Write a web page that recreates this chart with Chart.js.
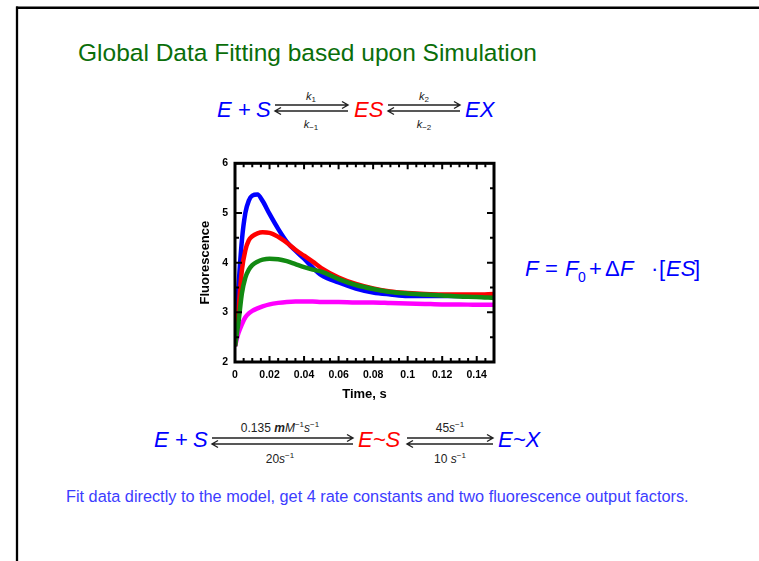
<!DOCTYPE html>
<html>
<head>
<meta charset="utf-8">
<script src="https://cdn.jsdelivr.net/npm/chart.js@4/dist/chart.umd.min.js"></script>
<style>
  html, body { margin: 0; padding: 0; background: #fff; }
  body { width: 759px; height: 561px; position: relative; overflow: hidden; font-family: "Liberation Sans", Arial, sans-serif; }
  #slide { position: absolute; left: 0; top: 0; }
  #fluor { position: absolute; left: 195px; top: 150px; filter: blur(0.5px); }
  .eq { font-family: "Liberation Sans", Arial, sans-serif; }
</style>
</head>
<body>
<svg id="slide" width="759" height="561" xmlns="http://www.w3.org/2000/svg">
  <!-- frame lines -->
  <line x1="16" y1="7.8" x2="759" y2="7.8" stroke="#000" stroke-width="2.5"/>
  <line x1="17" y1="6.5" x2="17" y2="561" stroke="#000" stroke-width="2.3"/>

  <text x="78" y="61" font-size="24.5" fill="#0a6e0a" class="eq">Global Data Fitting based upon Simulation</text>

  <!-- E + S <=> ES <=> EX -->
  <g class="eq" font-size="22" fill="#0000ff">
    <text x="217" y="117" font-style="italic">E</text>
    <text x="238" y="117">+</text>
    <text x="256" y="117" font-style="italic">S</text>
    <text x="354" y="117" font-style="italic" fill="#ff0000">ES</text>
    <text x="465" y="117" font-style="italic">EX</text>
  </g>
  <g stroke="#222" stroke-width="1.4" fill="none">
    <path d="M275 105 H348 M342 101.5 L348 105 L342 108.5"/>
    <path d="M275 111 H348 M281 107.5 L275 111 L281 114.5"/>
    <path d="M388 105 H460 M454 101.5 L460 105 L454 108.5"/>
    <path d="M388 111 H460 M394 107.5 L388 111 L394 114.5"/>
  </g>
  <g class="eq" font-size="11" fill="#222" text-anchor="middle">
    <text x="311" y="100"><tspan font-style="italic">k</tspan><tspan font-size="8" dy="2">1</tspan></text>
    <text x="311" y="128"><tspan font-style="italic">k</tspan><tspan font-size="8" dy="2">−1</tspan></text>
    <text x="424" y="100"><tspan font-style="italic">k</tspan><tspan font-size="8" dy="2">2</tspan></text>
    <text x="424" y="128"><tspan font-style="italic">k</tspan><tspan font-size="8" dy="2">−2</tspan></text>
  </g>

  <!-- F = F0 + dF [ES] -->
  <g class="eq" font-size="22" fill="#0000ff">
    <text x="525" y="276" font-style="italic">F</text>
    <text x="545" y="276">=</text>
    <text x="565" y="276" font-style="italic">F</text>
    <text x="578" y="282" font-size="14">0</text>
    <text x="589" y="276">+</text>
    <text x="605" y="276">Δ</text>
    <text x="620" y="276" font-style="italic">F</text>
    <text x="651" y="276">·</text>
    <text x="659" y="276">[</text>
    <text x="666" y="276" font-style="italic">ES</text>
    <text x="694" y="276">]</text>
  </g>

  <!-- fitted scheme with rate constants -->
  <g class="eq" font-size="22" fill="#0000ff">
    <text x="154" y="447" font-style="italic">E</text>
    <text x="175" y="447">+</text>
    <text x="193" y="447" font-style="italic">S</text>
    <text x="358" y="447" font-style="italic" fill="#ff0000">E~S</text>
    <text x="498" y="447" font-style="italic">E~X</text>
  </g>
  <g stroke="#222" stroke-width="1.4" fill="none">
    <path d="M212 438 H353 M347 434.5 L353 438 L347 441.5"/>
    <path d="M212 444 H353 M218 440.5 L212 444 L218 447.5"/>
    <path d="M407 438 H493 M487 434.5 L493 438 L487 441.5"/>
    <path d="M407 444 H493 M413 440.5 L407 444 L413 447.5"/>
  </g>
  <g class="eq" font-size="12" fill="#222" text-anchor="middle">
    <text x="280" y="432">0.135 <tspan font-style="italic" font-weight="bold">m</tspan><tspan font-style="italic">M</tspan><tspan font-size="8" dy="-5">−1</tspan><tspan font-style="italic" dy="5">s</tspan><tspan font-size="8" dy="-5">−1</tspan></text>
    <text x="280" y="463">20<tspan font-style="italic">s</tspan><tspan font-size="8" dy="-5">−1</tspan></text>
    <text x="450" y="432">45<tspan font-style="italic">s</tspan><tspan font-size="8" dy="-5">−1</tspan></text>
    <text x="450" y="463">10 <tspan font-style="italic">s</tspan><tspan font-size="8" dy="-5">−1</tspan></text>
  </g>

  <text x="66" y="502" font-size="16.3" fill="#3c3cff" class="eq">Fit data directly to the model, get 4 rate constants and two fluorescence output factors.</text>
</svg>

<canvas id="fluor" width="310" height="255"></canvas>

<script>
// stopped-flow traces, fluorescence vs time (s)
const times = [0, 0.002, 0.004, 0.006, 0.008, 0.010, 0.013, 0.016, 0.020, 0.025, 0.030, 0.035, 0.040,
  0.045, 0.050, 0.060, 0.070, 0.080, 0.090, 0.100, 0.110, 0.120, 0.130, 0.140, 0.150];

const blueTrace = [2.32, 3.5, 4.45, 5.0, 5.25, 5.35, 5.37, 5.24, 4.98, 4.68, 4.42, 4.24, 4.08,
  3.9, 3.75, 3.6, 3.48, 3.4, 3.36, 3.33, 3.33, 3.33, 3.33, 3.33, 3.33];
const redTrace = [2.32, 3.05, 3.85, 4.25, 4.45, 4.53, 4.59, 4.61, 4.6, 4.52, 4.4, 4.26, 4.14,
  4.02, 3.89, 3.7, 3.57, 3.48, 3.42, 3.39, 3.37, 3.36, 3.36, 3.36, 3.37];
const greenTrace = [2.32, 2.8, 3.38, 3.7, 3.86, 3.95, 4.02, 4.06, 4.08, 4.07, 4.03, 3.97, 3.91,
  3.86, 3.82, 3.67, 3.55, 3.47, 3.41, 3.38, 3.36, 3.34, 3.32, 3.31, 3.29];
const magentaTrace = [2.32, 2.58, 2.76, 2.9, 2.98, 3.03, 3.08, 3.12, 3.16, 3.19, 3.21, 3.22, 3.22,
  3.22, 3.21, 3.21, 3.2, 3.2, 3.19, 3.18, 3.17, 3.16, 3.16, 3.15, 3.15];

const xTicks = [0, 0.02, 0.04, 0.06, 0.08, 0.1, 0.12, 0.14];
const xTickLabels = ["0", "0.02", "0.04", "0.06", "0.08", "0.1", "0.12", "0.14"];
const yTicks = [2, 3, 4, 5, 6];

const toPoints = (vals) => vals.map((v, i) => ({ x: times[i], y: v }));

const trace = (vals, color) => ({
  data: toPoints(vals),
  borderColor: color,
  borderWidth: 4.5,
  pointRadius: 0,
  cubicInterpolationMode: "monotone",
  fill: false,
});

// box with inward ticks on all four sides
const boxTicks = {
  id: "boxTicks",
  afterDatasetsDraw(chart) {
    const { ctx, chartArea: a, scales } = chart;
    const x = scales.x, y = scales.y;
    ctx.save();
    ctx.strokeStyle = "#000";
    ctx.lineWidth = 2;
    for (let t = 0; t <= 0.1501; t += 0.005) {
      const px = x.getPixelForValue(t);
      const major = Math.abs(t / 0.02 - Math.round(t / 0.02)) < 1e-6;
      const len = major ? 6 : 4;
      ctx.beginPath();
      ctx.moveTo(px, a.bottom); ctx.lineTo(px, a.bottom - len);
      ctx.moveTo(px, a.top); ctx.lineTo(px, a.top + len);
      ctx.stroke();
    }
    for (let v = 2; v <= 6; v += 0.5) {
      const py = y.getPixelForValue(v);
      const len = Number.isInteger(v) ? 7 : 4;
      ctx.beginPath();
      ctx.moveTo(a.left, py); ctx.lineTo(a.left + len, py);
      ctx.moveTo(a.right, py); ctx.lineTo(a.right - len, py);
      ctx.stroke();
    }
    ctx.lineWidth = 3;
    ctx.strokeRect(a.left, a.top, a.right - a.left, a.bottom - a.top);
    ctx.restore();
  },
};

new Chart(document.getElementById("fluor"), {
  type: "line",
  data: {
    datasets: [
      trace(greenTrace, "#128a12"),
      trace(redTrace, "#ff0000"),
      trace(blueTrace, "#0000ff"),
      trace(magentaTrace, "#ff00ff"),
    ],
  },
  options: {
    responsive: false,
    animation: false,
    layout: { padding: { top: 11, right: 11, left: 0, bottom: 0 } },
    plugins: { legend: { display: false }, tooltip: { enabled: false } },
    scales: {
      x: {
        type: "linear",
        min: 0,
        max: 0.15,
        afterBuildTicks: (s) => { s.ticks = xTicks.map((v) => ({ value: v })); },
        afterFit: (s) => { s.height = 43; },
        grid: { display: false, drawTicks: false },
        border: { display: false },
        ticks: {
          color: "#000",
          padding: 7,
          maxRotation: 0,
          autoSkip: false,
          font: { family: "Liberation Sans", size: 10.5, weight: "bold" },
          callback: (v, i) => xTickLabels[i],
        },
        title: {
          display: true,
          text: "Time, s",
          color: "#000",
          padding: { top: 1, bottom: 3 },
          font: { family: "Liberation Sans", size: 13, weight: "bold" },
        },
      },
      y: {
        min: 2,
        max: 6,
        afterBuildTicks: (s) => { s.ticks = yTicks.map((v) => ({ value: v })); },
        afterFit: (s) => { s.width = 40; },
        grid: { display: false, drawTicks: false },
        border: { display: false },
        ticks: {
          color: "#000",
          padding: 7,
          font: { family: "Liberation Sans", size: 10.5, weight: "bold" },
        },
        title: {
          display: true,
          text: "Fluorescence",
          color: "#000",
          padding: { top: 3, bottom: 1 },
          font: { family: "Liberation Sans", size: 13, weight: "bold" },
        },
      },
    },
  },
  plugins: [boxTicks],
});
</script>
</body>
</html>
